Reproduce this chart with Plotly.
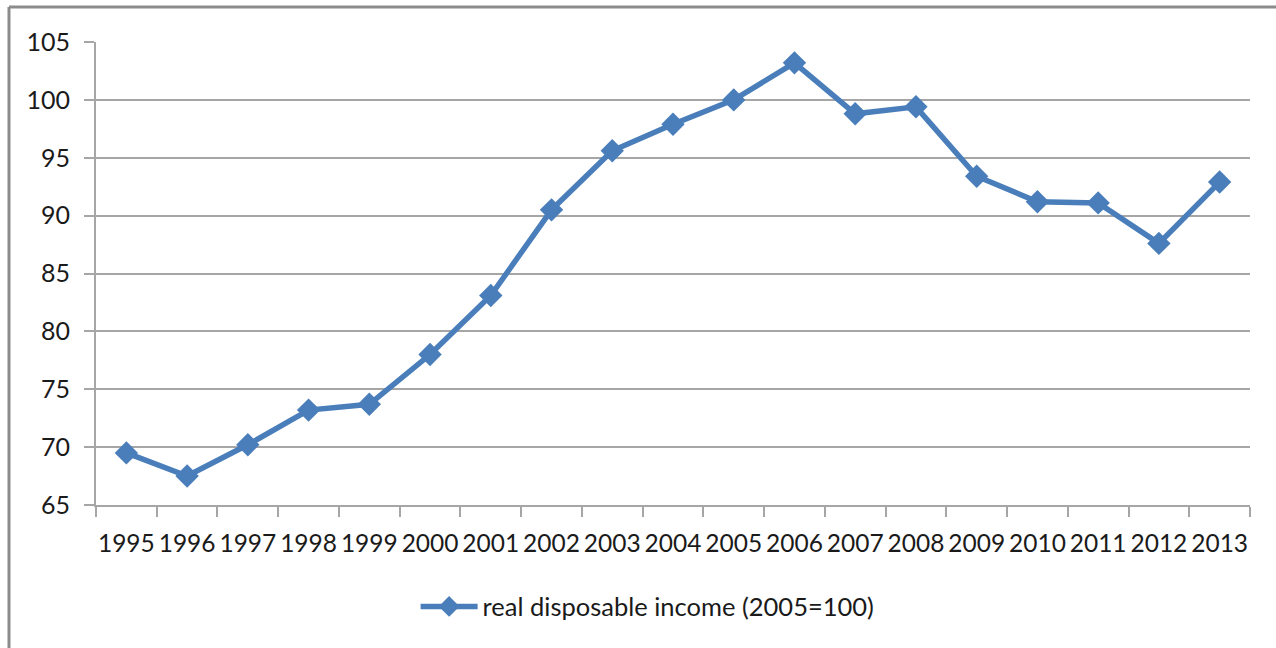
import plotly.graph_objects as go

years = ["1995", "1996", "1997", "1998", "1999", "2000", "2001", "2002", "2003", "2004",
         "2005", "2006", "2007", "2008", "2009", "2010", "2011", "2012", "2013"]
income = [69.5, 67.5, 70.2, 73.2, 73.7, 78.0, 83.1, 90.5, 95.6, 97.9,
          100.0, 103.2, 98.8, 99.4, 93.4, 91.2, 91.1, 87.6, 92.9]
y_ticks = [65, 70, 75, 80, 85, 90, 95, 100, 105]
series_name = "real disposable income (2005=100)"

BLUE = "#4a7ebb"
GRID = "#a6a6a6"
FONT = "Lato"

fig = go.Figure()
fig.add_trace(go.Scatter(
    x=years, y=income, name=series_name, mode="lines+markers",
    line=dict(color=BLUE, width=5.5),
    marker=dict(symbol="diamond", size=18, color=BLUE),
))

fig.update_layout(
    width=1276, height=648,
    margin=dict(l=96, r=26, t=42, b=143),
    paper_bgcolor="white", plot_bgcolor="white",
    font=dict(family=FONT, size=24, color="#1a1a1a"),
    showlegend=True,
    legend=dict(
        orientation="h", x=0.478, xanchor="center", y=-0.22, yanchor="middle",
        font=dict(family=FONT, size=25.5, color="#1a1a1a"),
        itemwidth=57, bgcolor="rgba(0,0,0,0)",
    ),
    xaxis=dict(
        type="category", range=[-0.5, len(years) - 0.5],
        tickson="boundaries", ticks="outside", ticklen=10, tickangle=0,
        tickcolor=GRID, tickwidth=2, showline=True, linecolor=GRID, linewidth=2,
        showgrid=False, tickfont=dict(family=FONT, size=24.5, color="#1a1a1a"),
        ticklabelstandoff=16, fixedrange=True,
    ),
    yaxis=dict(
        range=[65, 105], tickvals=y_ticks, ticks="outside", ticklen=10,
        tickcolor=GRID, tickwidth=2, showline=True, linecolor=GRID, linewidth=2,
        showgrid=True, gridcolor=GRID, gridwidth=2, zeroline=False,
        tickfont=dict(family=FONT, size=25, color="#1a1a1a"),
        ticklabelstandoff=9, fixedrange=True,
    ),
)

# outer chart frame (top and left edges visible)
fig.add_shape(type="line", xref="paper", yref="paper",
              x0=-0.0754, x1=1.05, y0=1.0756, y1=1.0756,
              line=dict(color="#8c8c8c", width=3))
fig.add_shape(type="line", xref="paper", yref="paper",
              x0=-0.0754, x1=-0.0754, y0=1.0756, y1=-0.35,
              line=dict(color="#8c8c8c", width=3))

fig.write_html("out.html")
